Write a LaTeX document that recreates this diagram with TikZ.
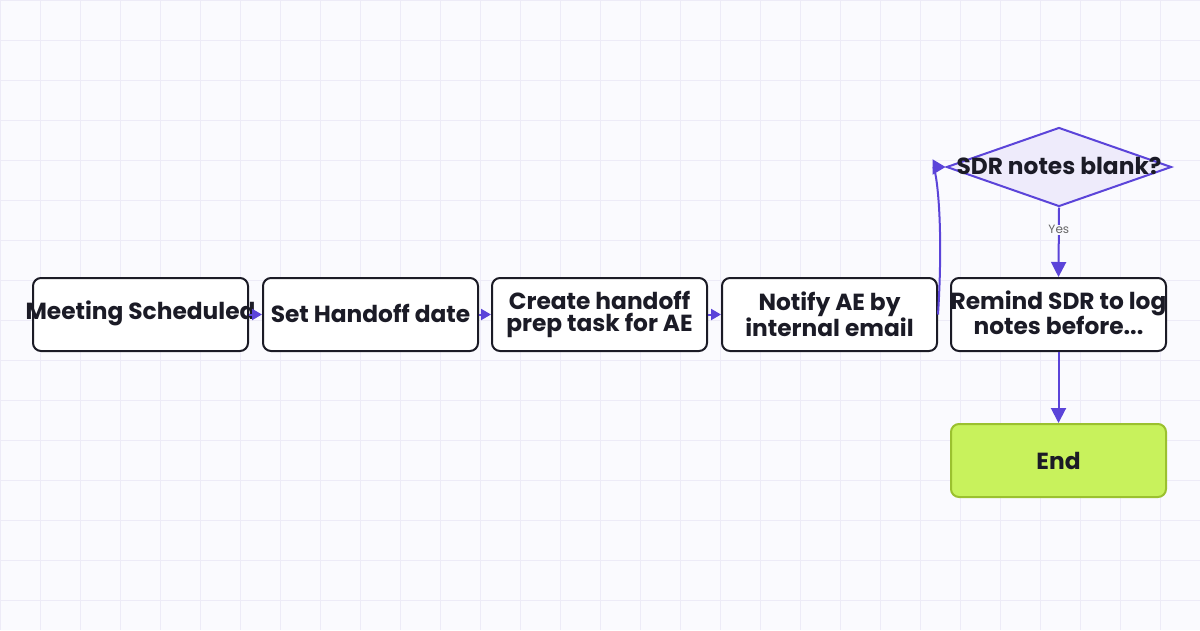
\documentclass[tikz,border=0pt]{standalone}
\usepackage{fontspec}
\setmainfont{Poppins}[UprightFont=*-Regular,BoldFont=*-Bold]
\usetikzlibrary{arrows.meta,shapes.geometric}
\definecolor{bg}{HTML}{FAFAFE}
\definecolor{gridc}{HTML}{EDEBF7}
\definecolor{edge}{HTML}{5B44D9}
\definecolor{ink}{HTML}{1B1B26}
\definecolor{dfill}{HTML}{EEEBFB}
\definecolor{endfill}{HTML}{C8F25C}
\definecolor{enddraw}{HTML}{9BC12F}
\tikzset{
  txt/.style={font=\fontsize{23.3}{22}\selectfont\bfseries, text=ink, align=center, inner sep=0pt},
  procbox/.style={txt, draw=ink, line width=2pt, fill=white, rounded corners=8pt,
    minimum width=215pt, minimum height=73pt},
  decbox/.style={txt, diamond, draw=edge, line width=2pt, fill=dfill, aspect=2.85,
    minimum width=225pt, minimum height=79pt},
  endbox/.style={procbox, draw=enddraw, fill=endfill},
  conn/.style={draw=edge, line width=2pt, -{Triangle[length=10pt,width=11pt]}},
  bigconn/.style={conn, -{Triangle[length=15pt,width=15pt]}},
  lbl/.style={font=\fontsize{12}{12}\selectfont, text=black!60}
}
\begin{document}
\begin{tikzpicture}[x=1pt,y=-1pt]
\fill[bg] (0,0) rectangle (1200,630);
\useasboundingbox (0,0) rectangle (1200,630);
\foreach \i in {0,40,...,1200} \draw[gridc, line width=1pt] (\i,0) -- (\i,630);
\foreach \j in {0,40,...,600} \draw[gridc, line width=1pt] (0,\j) -- (1200,\j);

\node[procbox] (meet) at (140.5,314.5) {};
\node[txt] (meett) at (140.5,313.5) {Meeting Scheduled};
\node[procbox] (set) at (370.5,314.5) {};
\node[txt] (sett) at (370.5,313.5) {Set Handoff date};
\node[procbox] (create) at (599.5,314.5) {Create handoff\\prep task for AE};
\node[procbox] (notify) at (829.5,314.5) {Notify AE by\\internal email};
\node[decbox] (dia) at (1059,167) {};
\node[txt] (diat) at (1059,166) {SDR notes blank?};
\node[procbox] (remind) at (1058.5,314.5) {};
\begin{scope}
\clip (940,270) rectangle (1166,360);
\node[txt] (remindt) at (1058.5,303) {Remind SDR to log};
\end{scope}
\node[txt] (remindt2) at (1058.5,325) {notes before...};
\node[endbox] (end) at (1058.5,460.5) {End};

\draw[conn] (meet) -- (set);
\draw[conn] (set) -- (create);
\draw[conn] (create) -- (notify);
\draw[conn, -{Triangle[length=13pt,width=15pt]}] (notify.east) .. controls (944,220) and (936,167) .. (dia.west);
\draw[bigconn] (dia.south) -- node[lbl, fill=bg, inner sep=1pt, pos=0.32] (yes) {Yes} (remind.north);
\draw[bigconn] (remind) -- (end);
\end{tikzpicture}
\end{document}
